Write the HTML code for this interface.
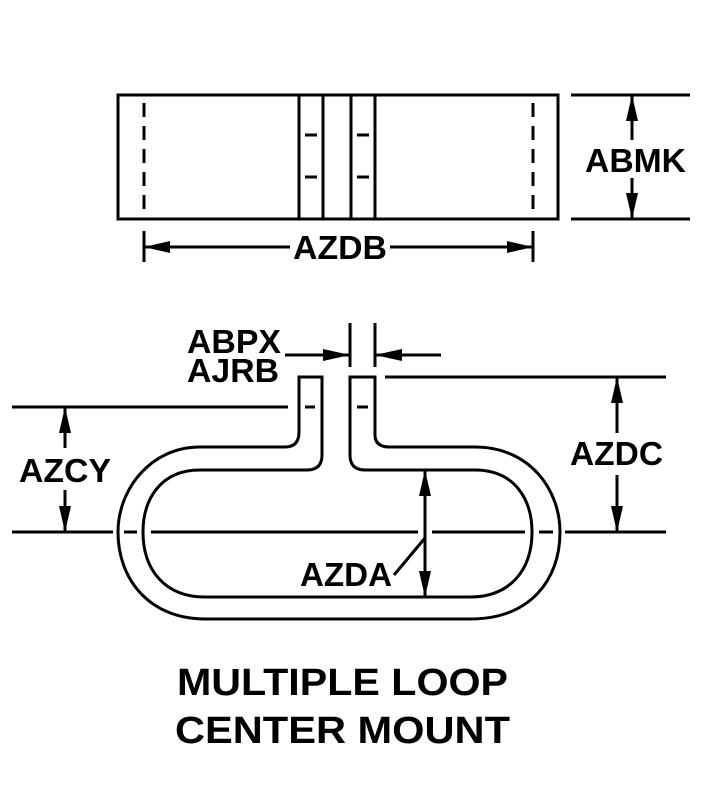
<!DOCTYPE html>
<html><head><style>html,body{margin:0;padding:0;background:#fff}svg{display:block}</style></head>
<body>
<svg width="704" height="810" viewBox="0 0 704 810" xmlns="http://www.w3.org/2000/svg">
<g stroke="#000" stroke-width="3" fill="none">
<rect x="118" y="95" width="440" height="124"/>
<line x1="299" y1="95" x2="299" y2="219"/>
<line x1="323" y1="95" x2="323" y2="219"/>
<line x1="351" y1="95" x2="351" y2="219"/>
<line x1="375" y1="95" x2="375" y2="219"/>
<line x1="144" y1="103" x2="144" y2="213" stroke-dasharray="14,9"/>
<line x1="533" y1="103" x2="533" y2="213" stroke-dasharray="14,9"/>
<line x1="305" y1="135" x2="317" y2="135"/><line x1="305" y1="177" x2="317" y2="177"/>
<line x1="357" y1="135" x2="369" y2="135"/><line x1="357" y1="177" x2="369" y2="177"/>
<line x1="144" y1="231" x2="144" y2="262"/><line x1="533" y1="231" x2="533" y2="262"/>
<line x1="144" y1="247" x2="290" y2="247"/><line x1="390" y1="247" x2="533" y2="247"/>
<line x1="571" y1="95" x2="690" y2="95"/><line x1="571" y1="219" x2="690" y2="219"/>
<line x1="632" y1="95" x2="632" y2="140"/><line x1="632" y1="178" x2="632" y2="219"/>
<path d="M 322 377 V 455 Q 322 470 307 470 H 200 C 160 470 143 500 143 532 C 143 570 165 597 205 597 H 470 C 510 597 532 570 532 532 C 532 500 515 470 475 470 H 365 Q 350 470 350 455 V 377 H 375 V 435 Q 375 447 390 447 H 475 C 530 447 560 490 560 532 C 560 580 530 619 470 619 H 205 C 150 619 118 580 118 532 C 118 490 150 447 200 447 H 285 Q 299 447 299 432 V 377 Z"/>
<line x1="350" y1="323" x2="350" y2="367"/><line x1="375" y1="323" x2="375" y2="367"/>
<line x1="285" y1="355" x2="350" y2="355"/><line x1="375" y1="355" x2="441" y2="355"/>
<line x1="385" y1="377" x2="666" y2="377"/>
<line x1="12" y1="407" x2="288" y2="407"/>
<line x1="305" y1="407" x2="315" y2="407"/><line x1="357" y1="407" x2="368" y2="407"/>
<line x1="12" y1="532" x2="113" y2="532"/><line x1="124" y1="532" x2="137" y2="532"/>
<line x1="151" y1="532" x2="418" y2="532"/><line x1="432" y1="532" x2="525" y2="532"/>
<line x1="539" y1="532" x2="553" y2="532"/><line x1="565" y1="532" x2="666" y2="532"/>
<line x1="65" y1="407" x2="65" y2="448"/><line x1="65" y1="490" x2="65" y2="532"/>
<line x1="617" y1="377" x2="617" y2="433"/><line x1="617" y1="475" x2="617" y2="532"/>
<line x1="425" y1="470" x2="425" y2="597"/>
<line x1="425" y1="538" x2="394" y2="575"/>
</g>
<g fill="#000">
<polygon points="144,247 170,241 170,253"/><polygon points="533,247 507,241 507,253"/>
<polygon points="632,95 626,121 638,121"/><polygon points="632,219 626,193 638,193"/>
<polygon points="350,355 323,349 323,361"/><polygon points="375,355 402,349 402,361"/>
<polygon points="65,407 59,433 71,433"/><polygon points="65,532 59,506 71,506"/>
<polygon points="617,377 611,403 623,403"/><polygon points="617,532 611,506 623,506"/>
<polygon points="425,470 419,496 431,496"/><polygon points="425,597 419,571 431,571"/>
</g>
<g font-family="Liberation Sans, sans-serif" font-weight="bold" fill="#000" lengthAdjust="spacingAndGlyphs">
<text x="293" y="259" font-size="33" textLength="94" lengthAdjust="spacingAndGlyphs">AZDB</text>
<text x="585" y="172" font-size="33" textLength="101" lengthAdjust="spacingAndGlyphs">ABMK</text>
<text x="187" y="353" font-size="33" textLength="94" lengthAdjust="spacingAndGlyphs">ABPX</text>
<text x="187" y="382" font-size="33" textLength="92" lengthAdjust="spacingAndGlyphs">AJRB</text>
<text x="19" y="482" font-size="33" textLength="92" lengthAdjust="spacingAndGlyphs">AZCY</text>
<text x="570" y="465" font-size="33" textLength="93" lengthAdjust="spacingAndGlyphs">AZDC</text>
<text x="300" y="586" font-size="33" textLength="92" lengthAdjust="spacingAndGlyphs">AZDA</text>
<text x="177" y="695" font-size="38" textLength="331" lengthAdjust="spacingAndGlyphs">MULTIPLE LOOP</text>
<text x="175" y="743" font-size="38" textLength="335" lengthAdjust="spacingAndGlyphs">CENTER MOUNT</text>
</g>
</svg>
</body></html>
